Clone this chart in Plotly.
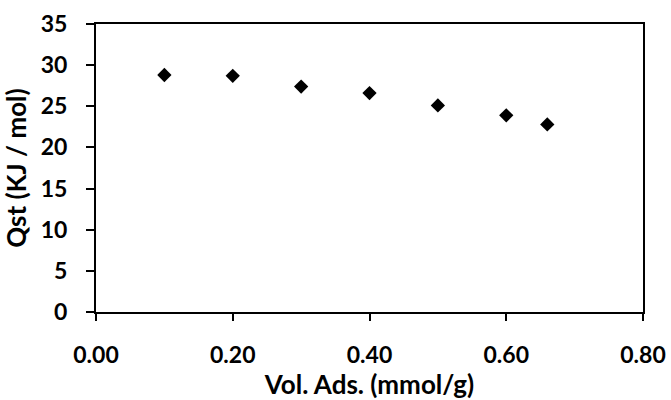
import plotly.graph_objects as go

vol_ads = [0.10, 0.20, 0.30, 0.40, 0.50, 0.60, 0.66]
qst = [28.8, 28.7, 27.4, 26.6, 25.1, 23.9, 22.8]

x_ticks = [0.0, 0.2, 0.4, 0.6, 0.8]
x_ticklabels = ["0.00", "0.20", "0.40", "0.60", "0.80"]
y_ticks = [0, 5, 10, 15, 20, 25, 30, 35]

font_family = "Lato, 'Open Sans', Arial, sans-serif"

fig = go.Figure()
fig.add_trace(go.Scatter(
    x=vol_ads, y=qst, mode="markers",
    marker=dict(symbol="diamond", size=11, color="black"),
    showlegend=False,
))

fig.update_layout(
    width=671, height=400,
    margin=dict(l=96, r=28, t=24, b=88),
    paper_bgcolor="white", plot_bgcolor="white",
    font=dict(family=font_family, color="black"),
)
fig.update_xaxes(
    range=[0, 0.8], tickvals=x_ticks, ticktext=x_ticklabels,
    showgrid=False, zeroline=False, automargin=False,
    showline=True, linecolor="black", linewidth=2, mirror=True,
    ticks="outside", ticklen=7, tickwidth=2, tickcolor="black",
    tickfont=dict(size=23, family=font_family, weight="bold"),
    ticklabelstandoff=14,
    title=dict(text="<b>Vol. Ads. (mmol/g)</b>", font=dict(size=26), standoff=8),
)
fig.update_yaxes(
    range=[0, 35], tickvals=y_ticks,
    showgrid=False, zeroline=False, automargin=False,
    showline=True, linecolor="black", linewidth=2, mirror=True,
    ticks="outside", ticklen=8, tickwidth=2, tickcolor="black",
    tickfont=dict(size=23, family=font_family, weight="bold"),
    ticklabelstandoff=14,
    title=dict(text="<b>Qst (KJ / mol)</b>", font=dict(size=26), standoff=8),
)

fig.write_html("out.html")
